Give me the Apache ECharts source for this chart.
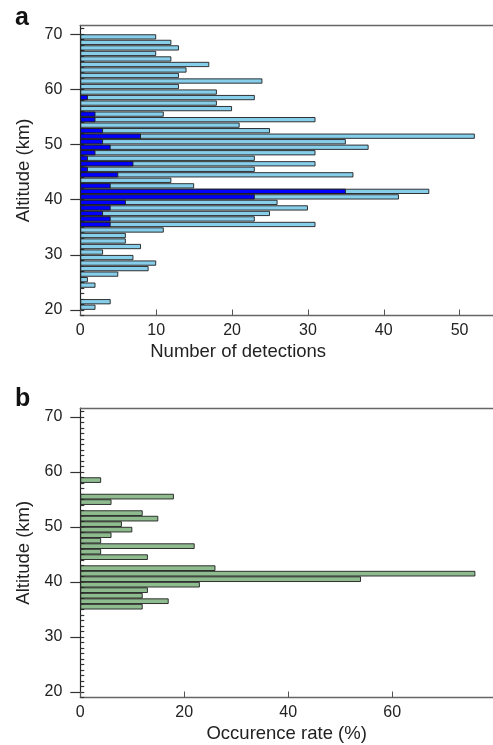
<!DOCTYPE html>
<html>
<head>
<meta charset="utf-8">
<script src="https://cdn.jsdelivr.net/npm/echarts@6/dist/echarts.min.js"></script>
<style>
html,body{margin:0;padding:0;background:#fff;}
#chart{width:493px;height:745px;}
</style>
</head>
<body>
<div id="chart"></div>
<script>
// Altitude bins (lower edge, km), bottom to top
const altitudeBins = [20,21,22,23,24,25,26,27,28,29,30,31,32,33,34,35,36,37,38,39,40,41,42,43,44,45,46,47,48,49,50,51,52,53,54,55,56,57,58,59,60,61,62,63,64,65,66,67,68,69];
// Panel a: total number of detections (light blue)
const detectionsTotal = [2,4,0,0,2,1,5,9,10,7,3,8,6,6,11,31,23,25,30,26,42,46,15,12,36,23,31,23,31,38,35,52,25,21,31,11,20,18,23,18,13,24,13,14,17,12,10,13,12,10];
// Panel a: subset detections (dark blue)
const detectionsSubset = [0,0,0,0,0,0,0,0,0,0,0,0,0,0,0,4,4,3,4,6,23,35,4,0,5,1,7,1,2,4,3,8,3,0,2,2,0,0,1,0,0,0,0,0,0,0,0,0,0,0];
// Panel b: occurrence rate (%)
const occurrenceRate = [0,0,0,0,0,0,0,0,0,0,0,0,0,0,0,12,17,12,13,23,54,76,26,0,13,4,22,4,6,10,8,15,12,0,6,18,0,0,4,0,0,0,0,0,0,0,0,0,0,0];
// Tick labels
const yMajorTicks = [20,30,40,50,60,70];
const yMinorTicks = [19,20,21,22,23,24,25,26,27,28,29,30,31,32,33,34,35,36,37,38,39,40,41,42,43,44,45,46,47,48,49,50,51,52,53,54,55,56,57,58,59,60,61,62,63,64,65,66,67,68,69,70,71];
const xTicksA = [0,10,20,30,40,50];
const xTicksB = [0,20,40,60];

const Y_MIN = 19, Y_MAX = 71.6;
const BIN_LO = 20, BIN_HI = 70;
const FONT = 'Liberation Sans';
const TXT = '#222';

const chart = echarts.init(document.getElementById('chart'), null, {renderer: 'canvas'});

function barGrid(g) {
  const scale = g.height / (Y_MAX - Y_MIN);
  return {left: g.left, width: g.width, top: g.top + (Y_MAX - BIN_HI) * scale, height: (BIN_HI - BIN_LO) * scale};
}
const gridA = {left: 80.3, width: 412.7, top: 25.3, height: 290.2};
const gridB = {left: 80.3, width: 412.7, top: 408, height: 289.5};

const nz = arr => arr.map(v => v === 0 ? '-' : v);

function valueX(gridIndex, max, ticks, name, pad) {
  return {
    type: 'value', gridIndex, position: 'bottom', min: 0, max,
    axisLine: {show: true, lineStyle: {color: '#666', width: 1.3}},
    axisTick: {show: true, inside: true, length: 6, lineStyle: {color: '#555', width: 1}, customValues: ticks},
    axisLabel: {color: TXT, fontFamily: FONT, fontSize: 16, margin: 7, customValues: ticks},
    splitLine: {show: false},
    name, nameLocation: 'middle', nameGap: 27,
    nameTextStyle: {color: TXT, fontFamily: FONT, fontSize: 18.5, padding: pad}
  };
}
function topLine(gridIndex, max) {
  return {type: 'value', gridIndex, position: 'top', min: 0, max,
    axisLine: {show: true, lineStyle: {color: '#666', width: 1.3}},
    axisTick: {show: false}, axisLabel: {show: false}, splitLine: {show: false}};
}
function hiddenX(gridIndex, max) {
  return {type: 'value', gridIndex, min: 0, max, show: false, splitLine: {show: false}};
}
function majorY(gridIndex) {
  return {
    type: 'value', gridIndex, min: Y_MIN, max: Y_MAX,
    axisLine: {show: true, lineStyle: {color: '#222', width: 1.2}},
    axisTick: {show: true, inside: false, length: 10, lineStyle: {color: '#333', width: 1.2}, customValues: yMajorTicks},
    axisLabel: {color: TXT, fontFamily: FONT, fontSize: 16, margin: 18, customValues: yMajorTicks},
    splitLine: {show: false},
    name: 'Altitude (km)', nameLocation: 'middle', nameGap: 42,
    nameTextStyle: {color: TXT, fontFamily: FONT, fontSize: 18.5}
  };
}
function minorY(gridIndex) {
  return {
    type: 'value', gridIndex, min: Y_MIN, max: Y_MAX,
    axisLine: {show: false},
    axisTick: {show: true, inside: false, length: 4, lineStyle: {color: '#333', width: 1.2}, customValues: yMinorTicks},
    axisLabel: {show: false}, splitLine: {show: false}
  };
}
function catY(gridIndex) {
  return {type: 'category', gridIndex, data: altitudeBins.map(String), show: false, boundaryGap: true};
}

const option = {
  animation: false,
  backgroundColor: '#fff',
  grid: [gridA, barGrid(gridA), gridB, barGrid(gridB)].map(g => Object.assign({containLabel: false}, g)),
  xAxis: [
    valueX(0, 54.4, xTicksA, 'Number of detections', [0, 97, 0, 0]),
    topLine(0, 54.4),
    hiddenX(1, 54.4),
    valueX(2, 79.4, xTicksB, 'Occurence rate (%)', [0, 0, 0, 0]),
    topLine(2, 79.4),
    hiddenX(3, 79.4)
  ],
  yAxis: [
    majorY(0), minorY(0), catY(1),
    majorY(2), minorY(2), catY(3)
  ],
  series: [
    {type: 'bar', xAxisIndex: 2, yAxisIndex: 2, data: nz(detectionsTotal), barWidth: 5.2, barGap: '-100%',
      itemStyle: {color: '#87CEEB', borderColor: '#1e1e1e', borderWidth: 0.9}},
    {type: 'bar', xAxisIndex: 2, yAxisIndex: 2, data: nz(detectionsSubset), barWidth: 5.2, barGap: '-100%',
      itemStyle: {color: '#0000FF', borderColor: '#1e1e1e', borderWidth: 0.9}},
    {type: 'bar', xAxisIndex: 5, yAxisIndex: 5, data: nz(occurrenceRate), barWidth: 5.6,
      itemStyle: {color: '#8FBC8F', borderColor: '#1e1e1e', borderWidth: 0.9}}
  ],
  graphic: [
    {type: 'text', left: 15, top: 6, style: {text: 'a', fill: '#111', font: 'bold 25px "Liberation Sans"'}},
    {type: 'text', left: 15, top: 387, style: {text: 'b', fill: '#111', font: 'bold 25px "Liberation Sans"'}}
  ]
};
chart.setOption(option);
</script>
</body>
</html>
